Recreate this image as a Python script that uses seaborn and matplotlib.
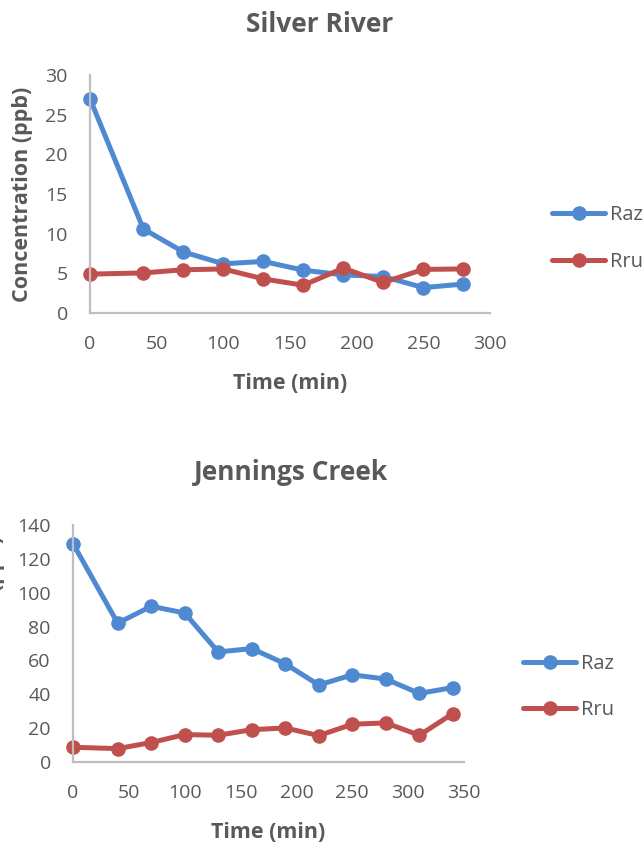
import numpy as np
import pandas as pd
import matplotlib
matplotlib.use("Agg")
import matplotlib.pyplot as plt
import seaborn as sns

# ---- data ----
silver_time = [0, 40, 70, 100, 130, 160, 190, 220, 250, 280]
silver_raz = [27.0, 10.6, 7.7, 6.2, 6.5, 5.4, 4.8, 4.6, 3.2, 3.65]
silver_rru = [4.9, 5.05, 5.45, 5.55, 4.3, 3.5, 5.65, 3.85, 5.5, 5.55]

jennings_time = [0, 40, 70, 100, 130, 160, 190, 220, 250, 280, 310, 340]
jennings_raz = [129, 82, 92, 88, 65, 67, 58, 45.5, 51.5, 49, 40.5, 44]
jennings_rru = [8.7, 7.9, 11.5, 16.2, 15.8, 19.1, 20.1, 15.6, 22.3, 23.1, 15.8, 28.6]

series_names = ["Raz", "Rru"]
titles = ["Silver River", "Jennings Creek"]
x_label = "Time (min)"
y_label = "Concentration (ppb)"
silver_yticks = [0, 5, 10, 15, 20, 25, 30]
silver_xticks = [0, 50, 100, 150, 200, 250, 300]
jennings_yticks = [0, 20, 40, 60, 80, 100, 120, 140]
jennings_xticks = [0, 50, 100, 150, 200, 250, 300, 350]

sns.set_theme(style="white")
plt.rcParams["font.family"] = ["Open Sans", "DejaVu Sans"]

TXT = "#595959"
SPINE = "#BFBFBF"
palette = {"Raz": "#4F89D2", "Rru": "#C0504D"}
W, H = 644, 846

fig = plt.figure(figsize=(W / 100, H / 100), dpi=100)


def frac_rect(left, top, right, bottom):
    return [left / W, 1 - bottom / H, (right - left) / W, (bottom - top) / H]


def make_df(t, raz, rru):
    return pd.DataFrame({
        "Time": list(t) + list(t),
        "Conc": list(raz) + list(rru),
        "Series": [series_names[0]] * len(t) + [series_names[1]] * len(t),
    })


def draw(ax, df, xticks, yticks, title, title_xy, legend_xy, label_x):
    sns.lineplot(data=df, x="Time", y="Conc", hue="Series", palette=palette,
                 marker="o", markersize=10.5, linewidth=3.6, markeredgewidth=0,
                 ax=ax, legend=True, clip_on=False)
    ax.set_xlim(xticks[0], xticks[-1])
    ax.set_ylim(yticks[0], yticks[-1])
    ax.set_xticks(xticks)
    ax.set_yticks(yticks)
    ax.tick_params(axis="both", length=0, labelsize=14, labelcolor=TXT)
    ax.tick_params(axis="y", pad=16)
    ax.tick_params(axis="x", pad=16)
    for s in ["top", "right"]:
        ax.spines[s].set_visible(False)
    for s in ["left", "bottom"]:
        ax.spines[s].set_color(SPINE)
        ax.spines[s].set_linewidth(1.6)
    ax.set_xlabel(x_label, fontsize=15.5, fontweight="bold", color=TXT, labelpad=14)
    ax.set_ylabel(y_label, fontsize=15.5, fontweight="bold", color=TXT)
    ax.yaxis.set_label_coords(label_x, 0.5)
    fig.text(title_xy[0], title_xy[1], title,
             ha="center", va="center", fontsize=19, fontweight="bold", color=TXT)
    handles, labels = ax.get_legend_handles_labels()
    ax.get_legend().remove()
    fig.legend(handles, labels, loc="center left", bbox_to_anchor=legend_xy,
               frameon=False, fontsize=14.5, labelcolor=TXT, handlelength=2.65,
               handletextpad=0.25, labelspacing=1.3, borderpad=0, borderaxespad=0)


ax1 = fig.add_axes(frac_rect(90, 75, 490, 313))
draw(ax1, make_df(silver_time, silver_raz, silver_rru), silver_xticks, silver_yticks,
     titles[0], (320 / W, 1 - 25 / H), (552 / W, 1 - 238.5 / H), -0.142)

ax2 = fig.add_axes(frac_rect(73, 525, 464, 762))
draw(ax2, make_df(jennings_time, jennings_raz, jennings_rru), jennings_xticks, jennings_yticks,
     titles[1], (291 / W, 1 - 472 / H), (523 / W, 1 - 687 / H), -0.174)

fig.savefig("out.png", dpi=100)
